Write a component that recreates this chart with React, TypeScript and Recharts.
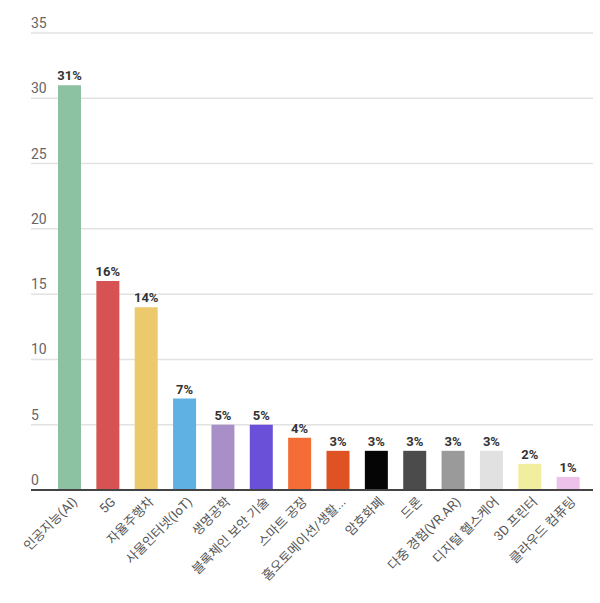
import React from 'react';
import { BarChart, Bar, XAxis, YAxis, CartesianGrid, Cell, LabelList } from 'recharts';

const categories = [
  '인공지능(AI)', '5G', '자율주행차', '사물인터넷(IoT)', '생명공학', '블록체인 보안 기술', '스마트 공장',
  '홈오토메이션/생활...', '암호화폐', '드론', '다중 경험(VR.AR)', '디지털 헬스케어', '3D 프린터', '클라우드 컴퓨팅',
];
const shares = [31, 16, 14, 7, 5, 5, 4, 3, 3, 3, 3, 3, 2, 1];
const barColors = [
  '#8cc1a2', '#d75252', '#ecca6c', '#5eb1e2', '#a88fc7', '#6a50d8', '#f46d37',
  '#df5224', '#050505', '#4b4b4b', '#9a9a9a', '#e1e1e1', '#f1eea0', '#edc2ea',
];
const yTicks = [0, 5, 10, 15, 20, 25, 30, 35];

const data = categories.map((name, i) => ({ name, value: shares[i] }));

const FONT = "Roboto, 'Noto Sans CJK KR', sans-serif";

const YTick = (props: any) => {
  const { x, y, payload } = props;
  return (
    <text x={x} y={y - 5} textAnchor="start" fill="#666" fontSize={14} fontFamily={FONT}>
      {payload.value}
    </text>
  );
};

const XTick = (props: any) => {
  const { x, y, payload } = props;
  return (
    <g transform={`translate(${x + 3},${y - 1})`}>
      <text
        x={0}
        y={0}
        dy={8}
        textAnchor="end"
        transform="rotate(-45)"
        fill="#555"
        fontSize={13}
        fontFamily={FONT}
      >
        {payload.value}
      </text>
    </g>
  );
};

export default function App() {
  return (
    <div style={{ position: 'absolute', left: 0, top: 0, width: 600, height: 603, background: '#fff' }}>
      <BarChart width={600} height={603} data={data} margin={{ top: 33, right: 7, left: 0, bottom: 0 }}>
        <CartesianGrid vertical={false} stroke="#e2e2e2" strokeWidth={1.5} />
        <XAxis
          dataKey="name"
          interval={0}
          height={113}
          padding={{ left: 19, right: 6 }}
          tickLine={false}
          axisLine={{ stroke: '#444', strokeWidth: 2 }}
          tick={<XTick />}
        />
        <YAxis
          domain={[0, 35]}
          ticks={yTicks}
          width={31}
          tickLine={false}
          axisLine={false}
          tickSize={0}
          tickMargin={0}
          tick={<YTick />}
        />
        <Bar dataKey="value" barSize={23} isAnimationActive={false}>
          {data.map((d, i) => (
            <Cell key={d.name} fill={barColors[i]} />
          ))}
          <LabelList
            dataKey="value"
            position="top"
            offset={5}
            formatter={(v: any) => `${v}%`}
            fill="#333"
            fontSize={13}
            fontWeight="bold"
            fontFamily={FONT}
          />
        </Bar>
      </BarChart>
    </div>
  );
}
